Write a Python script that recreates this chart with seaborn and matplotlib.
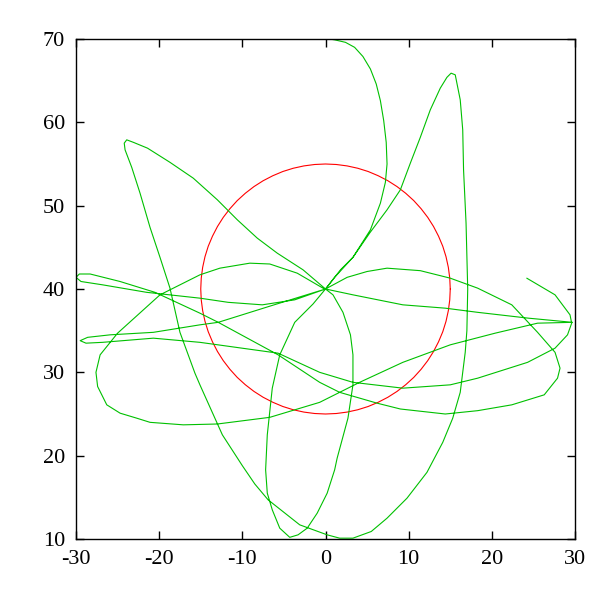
import matplotlib
matplotlib.use('Agg')
import matplotlib.pyplot as plt
import seaborn as sns

# red circle, centre (0,40), radius 15, read at 5 degree steps
circle_x = [15, 14.94, 14.77, 14.49, 14.10, 13.59, 12.99, 12.29, 11.49, 10.61, 9.64, 8.60, 7.50, 6.34, 5.13, 3.88, 2.60, 1.31, 0,
            -1.31, -2.60, -3.88, -5.13, -6.34, -7.50, -8.60, -9.64, -10.61, -11.49, -12.29, -12.99, -13.59, -14.10, -14.49, -14.77, -14.94, -15,
            -14.94, -14.77, -14.49, -14.10, -13.59, -12.99, -12.29, -11.49, -10.61, -9.64, -8.60, -7.50, -6.34, -5.13, -3.88, -2.60, -1.31, 0,
            1.31, 2.60, 3.88, 5.13, 6.34, 7.50, 8.60, 9.64, 10.61, 11.49, 12.29, 12.99, 13.59, 14.10, 14.49, 14.77, 14.94, 15]
circle_y = [40, 41.31, 42.60, 43.88, 45.13, 46.34, 47.50, 48.60, 49.64, 50.61, 51.49, 52.29, 52.99, 53.59, 54.10, 54.49, 54.77, 54.94, 55,
            54.94, 54.77, 54.49, 54.10, 53.59, 52.99, 52.29, 51.49, 50.61, 49.64, 48.60, 47.50, 46.34, 45.13, 43.88, 42.60, 41.31, 40,
            38.69, 37.40, 36.12, 34.87, 33.66, 32.50, 31.40, 30.36, 29.39, 28.51, 27.71, 27.01, 26.41, 25.90, 25.51, 25.23, 25.06, 25,
            25.06, 25.23, 25.51, 25.90, 26.41, 27.01, 27.71, 28.51, 29.39, 30.36, 31.40, 32.50, 33.66, 34.87, 36.12, 37.40, 38.69, 40]

# green trajectory
path_x = [-0.8, 1.1, 2.4, 3.5, 4.5, 5.4, 6.1, 6.6, 7.0, 7.3, 7.4, 7.2, 6.6, 5.4, 3.3, 1.1, 0,
          -1.5, -3.7, -5.5, -6.4, -7.0, -7.2, -7.0, -6.4, -5.5, -4.3, -3.3, -2.2, -1.0, 0.2, 1.1,
          1.4, 2.7, 3.3, 3.3, 3.0, 2.1, 0.9, 0,
          -2.7, -5.8, -8.2, -10.6, -13.0, -15.9, -18.7, -21.4, -23.1, -23.9, -24.2, -24.1, -23.3,
          -22.3, -21.1, -19.9, -18.7, -17.5, -15.7, -15.1, -12.4, -10.0, -8.5, -6.9, -3.1, 0.2, 1.7, 3.3,
          5.5, 7.4, 9.8, 12.2, 14.1, 15.3, 16.2, 16.8, 17.0, 17.1, 17.0, 16.9, 16.6, 16.5, 16.2,
          15.9, 15.6, 15.1, 14.6, 13.8, 12.6, 11.4, 10.2, 9.0, 7.4, 5.3, 3.3, 1.8, 0,
          -0.3, -3.4, -6.7, -9.1, -12.7, -15.1, -19.9, -25.0, -27.1, -27.6, -27.4, -26.3, -24.7,
          -22.7, -21.1, -17.1, -13.0, -6.7, -0.7, 4.1, 9.3, 15.0, 20.4, 25.5, 29.7,
          24.4, 18.3, 14.4, 9.3, 3.3, 0,
          2.6, 5.0, 7.4, 11.4, 15.0, 18.3, 22.4, 25.5, 27.6, 28.2, 27.9, 26.3, 22.4, 18.3, 14.4,
          9.0, 6.2, 1.7, -0.7, -5.7, -12.9, -15.1, -20.5, -24.7, -28.3, -29.6, -30.0, -29.4,
          -26.8, -21.5, -15.1, -11.7, -7.6, -3.7, 0,
          -6.5, -12.9, -15.1, -20.7, -25.9, -28.6, -29.5, -28.8, -26.8, -20.7, -15.1, -5.7, -0.7,
          3.3, 9.3, 15.0, 18.3, 24.3, 27.6, 29.1, 29.6, 29.4, 27.6, 24.2]
path_y = [70.2, 69.9, 69.6, 69.0, 67.9, 66.4, 64.6, 62.6, 60.2, 57.6, 55.0, 52.8, 50.3, 47.1, 43.8, 41.4, 40,
          38.2, 36.0, 32.1, 28.1, 22.5, 18.3, 15.5, 13.5, 11.3, 10.2, 10.5, 11.3, 13.1, 15.5, 18.3,
          19.7, 24.5, 28.5, 32.1, 34.5, 37.2, 39.3, 40,
          42.3, 44.3, 46.1, 48.3, 50.7, 53.3, 55.2, 56.9, 57.6, 57.9, 57.5, 56.7, 54.6,
          51.5, 47.4, 43.8, 40.1, 34.8, 29.9, 28.5, 22.5, 18.8, 16.6, 14.7, 11.7, 10.5, 10.1, 10.1,
          10.9, 12.5, 14.9, 18.0, 21.6, 24.5, 27.6, 32.4, 35.0, 40.0, 44.1, 47.9, 54.3, 59.1, 62.7,
          64.2, 65.7, 65.9, 65.4, 64.1, 61.5, 58.2, 55.1, 51.9, 49.5, 46.7, 43.8, 42.3, 40,
          40.1, 41.9, 43.0, 43.1, 42.5, 41.7, 39.3, 34.7, 32.1, 30.0, 28.3, 26.1, 25.1,
          24.5, 24.0, 23.7, 23.8, 24.6, 26.4, 28.8, 31.2, 33.3, 34.7, 35.9, 36.0,
          36.5, 37.2, 37.7, 38.1, 39.3, 40,
          41.4, 42.1, 42.5, 42.2, 41.3, 40.1, 38.1, 34.8, 32.4, 30.5, 29.3, 27.3, 26.1, 25.4, 25.0,
          25.6, 26.3, 27.6, 28.8, 32.1, 36.0, 37.1, 39.6, 40.9, 41.8, 41.8, 41.4, 40.9,
          40.5, 39.6, 38.9, 38.4, 38.1, 38.7, 40,
          38.0, 36.0, 35.7, 34.8, 34.5, 34.2, 33.8, 33.5, 33.6, 34.1, 33.6, 32.3, 30.0,
          28.8, 28.1, 28.5, 29.3, 31.2, 32.9, 34.5, 35.9, 36.9, 39.3, 41.3]

x_ticks = [-30, -20, -10, 0, 10, 20, 30]
y_ticks = [10, 20, 30, 40, 50, 60, 70]

sns.set_style('ticks')
plt.rcParams['font.family'] = ['Liberation Serif', 'DejaVu Serif']
plt.rcParams['axes.unicode_minus'] = False

fig = plt.figure(figsize=(6, 6), dpi=100)
ax = fig.add_axes([76 / 600, 61 / 600, 499 / 600, 500 / 600])

sns.lineplot(x=circle_x, y=circle_y, sort=False, estimator=None,
             color='#ff0000', linewidth=0.8, ax=ax)
sns.lineplot(x=path_x, y=path_y, sort=False, estimator=None,
             color='#00c000', linewidth=0.8, ax=ax)

ax.set_xlim(-30, 30)
ax.set_ylim(10, 70)
ax.set_xticks(x_ticks)
ax.set_yticks(y_ticks)
ax.tick_params(direction='in', length=6, width=1, top=True, right=True,
               labelsize=16, pad=8, colors='black')
for s in ax.spines.values():
    s.set_linewidth(1)
    s.set_color('black')
ax.set_xlabel('')
ax.set_ylabel('')

fig.savefig('out.png', dpi=100)
